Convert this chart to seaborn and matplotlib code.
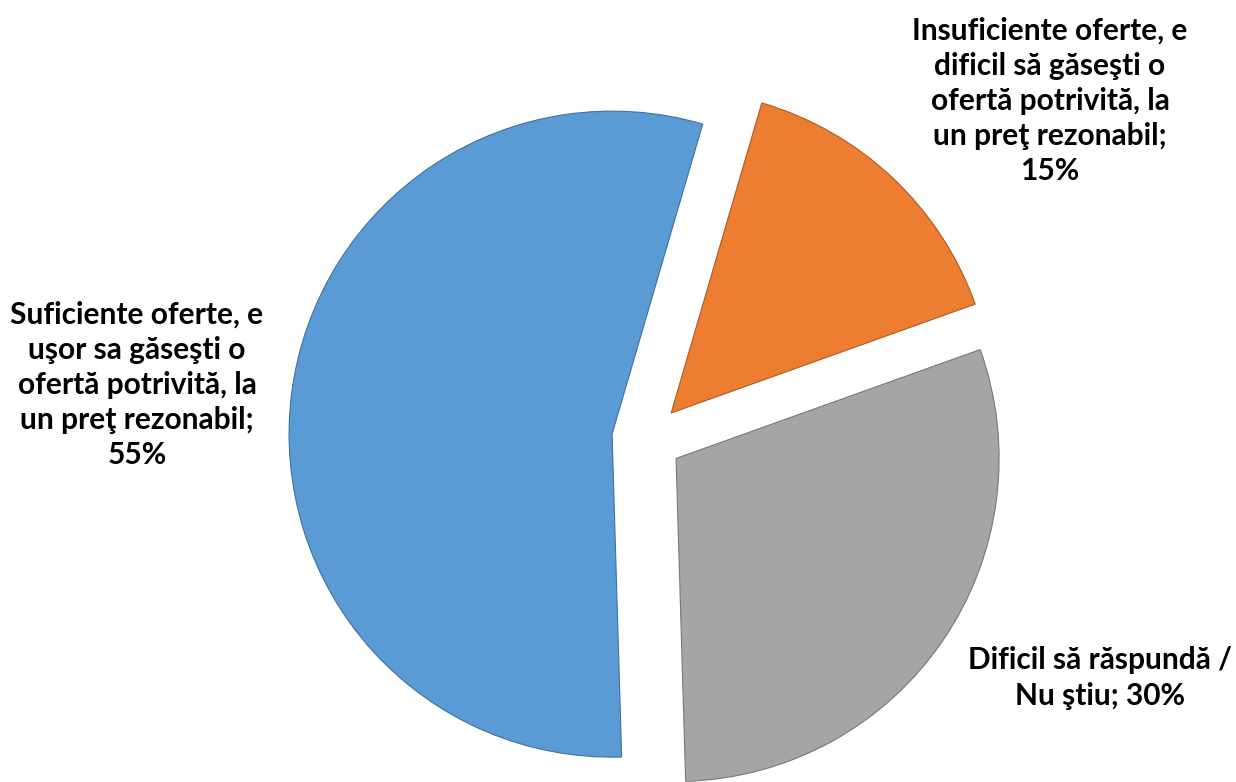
import matplotlib
matplotlib.use('Agg')
import matplotlib.pyplot as plt
import seaborn as sns

# =========================
# DATA
# =========================

categories = [
    "Suficiente oferte, e\nuşor sa găseşti o\nofertă potrivită, la\nun preţ rezonabil;\n55%",
    "Insuficiente oferte, e\ndificil să găseşti o\nofertă potrivită, la\nun preţ rezonabil;\n15%",
    "Dificil să răspundă /\nNu ştiu; 30%",
]
values = [55, 15, 30]
colors = ['#5B9BD5', '#ED7D31', '#A5A5A5']
edge_colors = ['#41719C', '#AE5A21', '#787878']

# label anchor points (figure fraction)
label_pos = [(137 / 1236, 1 - 385 / 782), (1050 / 1236, 1 - 101 / 782), (1100 / 1236, 1 - 678 / 782)]

# =========================
# PLOT
# =========================

sns.set_theme(style='white')
plt.rcParams['font.family'] = ['Lato', 'DejaVu Sans']

fig = plt.figure(figsize=(12.36, 7.82), dpi=100)
ax = fig.add_axes([0, 0, 1, 1])

wedges, _ = ax.pie(
    values,
    colors=colors,
    explode=[0.109, 0.109, 0.109],
    startangle=-88.3,
    counterclock=False,
    radius=1.0,
    wedgeprops=dict(linewidth=0.8),
)
for w, ec in zip(wedges, edge_colors):
    w.set_edgecolor(ec)

# pixel mapping: radius 323 px, centre at (647, 438.6)
R = 323.0
cx, cy = 647.0, 438.6
ax.set_xlim(-cx / R, (1236 - cx) / R)
ax.set_ylim(-(782 - cy) / R, cy / R)
ax.set_aspect('equal')
ax.axis('off')

for text, (x, y) in zip(categories, label_pos):
    fig.text(x, y, text, ha='center', va='center', fontsize=21.5,
             fontweight='bold', color='black', linespacing=1.31)

fig.savefig('out.png', dpi=100, facecolor='white')
